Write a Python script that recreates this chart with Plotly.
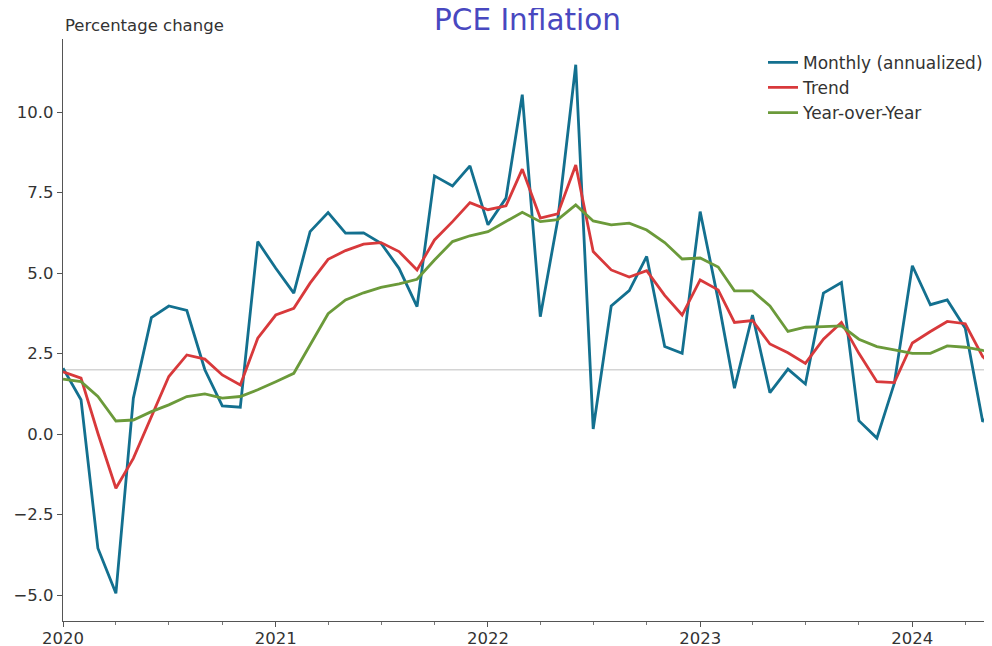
import pandas as pd
import plotly.graph_objects as go

dates = pd.date_range("2020-01-01", periods=54, freq="MS")

monthly = [2.05, 1.07, -3.54, -4.94, 1.12, 3.62, 3.98, 3.84, 2.0, 0.88,
           0.84, 5.98, 5.15, 4.38, 6.29, 6.88, 6.24, 6.25, 5.93, 5.15,
           3.96, 8.02, 7.71, 8.33, 6.5, 7.33, 10.54, 3.65, 6.65, 11.47,
           0.16, 3.98, 4.46, 5.52, 2.72, 2.51, 6.91, 4.17, 1.43, 3.70,
           1.29, 2.02, 1.56, 4.38, 4.71, 0.42, -0.12, 1.58, 5.23, 4.02,
           4.17, 3.29, 0.39, 1.0]
trend = [1.94, 1.74, 0.03, -1.68, -0.75, 0.55, 1.79, 2.46, 2.33, 1.84,
         1.53, 2.98, 3.70, 3.91, 4.69, 5.43, 5.70, 5.90, 5.95, 5.67,
         5.10, 6.03, 6.60, 7.19, 6.97, 7.09, 8.23, 6.71, 6.84, 8.36,
         5.67, 5.10, 4.88, 5.08, 4.31, 3.70, 4.79, 4.48, 3.47, 3.53,
         2.80, 2.53, 2.20, 2.95, 3.47, 2.51, 1.63, 1.60, 2.83, 3.19,
         3.50, 3.43, 2.41, 1.85]
yoy = [1.71, 1.63, 1.17, 0.41, 0.44, 0.70, 0.91, 1.17, 1.25, 1.12,
       1.17, 1.38, 1.63, 1.89, 2.77, 3.74, 4.17, 4.39, 4.56, 4.67,
       4.81, 5.41, 5.98, 6.16, 6.29, 6.60, 6.89, 6.60, 6.66, 7.12,
       6.62, 6.50, 6.55, 6.34, 5.95, 5.44, 5.47, 5.19, 4.45, 4.45,
       3.98, 3.19, 3.32, 3.34, 3.36, 2.95, 2.72, 2.62, 2.51, 2.51,
       2.74, 2.70, 2.60, 2.55]

target = 2.0
ytick_vals = [-5.0, -2.5, 0.0, 2.5, 5.0, 7.5, 10.0]
xtick_vals = ["2020-01-01", "2021-01-01", "2022-01-01", "2023-01-01", "2024-01-01"]
xtick_text = ["2020", "2021", "2022", "2023", "2024"]

FONT = "DejaVu Sans"
W, H = 984, 638  # page body has an 8px margin
fig = go.Figure()
series = [("Monthly (annualized)", monthly, "#13708f"),
          ("Trend", trend, "#d8393b"),
          ("Year-over-Year", yoy, "#6b9a3a")]
for name, vals, col in series:
    fig.add_trace(go.Scatter(x=dates, y=vals, mode="lines", name=name,
                             legendgroup=name,
                             line=dict(color=col, width=2.8)))

fig.add_shape(type="line", xref="paper", x0=0, x1=1, yref="y", y0=target, y1=target,
              line=dict(color="#d4d4d4", width=1.5), layer="below")

fig.update_layout(
    width=W, height=H,
    margin=dict(l=55, r=0, t=31, b=25),
    paper_bgcolor="white", plot_bgcolor="white",
    font=dict(family=FONT, size=16.5, color="#333333"),
    title=dict(text="PCE Inflation", x=0.5, xref="paper", xanchor="center",
               y=1 - 12 / H, yref="container", yanchor="middle",
               font=dict(family=FONT, size=29.5, color="#4848c0")),
    showlegend=True,
    legend=dict(x=0.7535, y=0.990, xanchor="left", yanchor="top",
                bgcolor="rgba(0,0,0,0)", borderwidth=0,
                font=dict(family=FONT, size=17, color="#333333"),
                tracegroupgap=0, itemwidth=30),
    annotations=[dict(text="Percentage change", xref="paper", yref="paper",
                      x=0, y=1 + 14 / 582, xanchor="left", yanchor="middle",
                      showarrow=False,
                      font=dict(family=FONT, size=16.5, color="#333333"))],
)

fig.update_xaxes(type="date", range=["2020-01-01", "2024-05-17"],
                 tickvals=xtick_vals, ticktext=xtick_text,
                 showgrid=False, zeroline=False,
                 showline=True, linecolor="#555555", linewidth=1.2,
                 ticks="outside", ticklen=5, tickcolor="#555555",
                 ticklabelstandoff=-3,
                 minor=dict(dtick="M3", tick0="2020-01-01", ticks="outside",
                            ticklen=3, tickcolor="#777777", showgrid=False),
                 automargin=False)
fig.update_yaxes(range=[-5.80, 12.27], tickvals=ytick_vals, tickformat=".1f",
                 showgrid=False, zeroline=False,
                 showline=True, linecolor="#555555", linewidth=1.2,
                 ticks="outside", ticklen=5, tickcolor="#555555",
                 automargin=False)

fig.write_html("out.html")
